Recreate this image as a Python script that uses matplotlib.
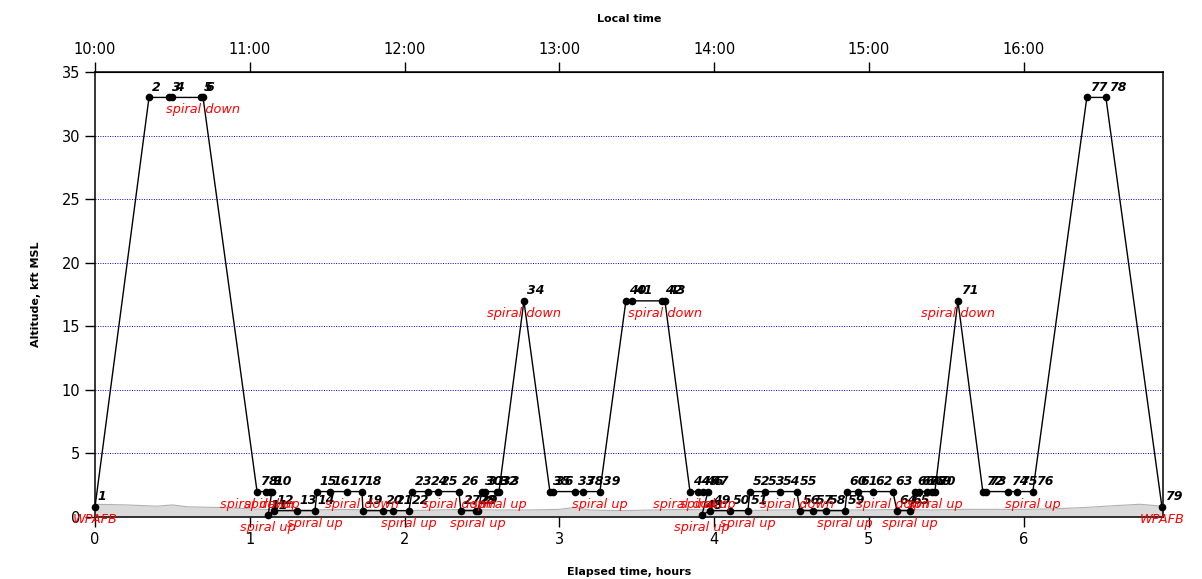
import matplotlib
matplotlib.use("Agg")
import matplotlib.pyplot as plt

# waypoints: elapsed time (h) and altitude (kft MSL), numbered 1..79
hours = [0.000, 0.349, 0.478, 0.497, 0.685, 0.698, 1.047, 1.105, 1.130, 1.143,
         1.118, 1.156, 1.305, 1.421, 1.434, 1.518, 1.628, 1.725, 1.731, 1.860,
         1.925, 2.028, 2.048, 2.151, 2.216, 2.351, 2.364, 2.461, 2.474, 2.500,
         2.519, 2.597, 2.610, 2.771, 2.939, 2.959, 3.101, 3.152, 3.262, 3.430,
         3.469, 3.663, 3.682, 3.844, 3.895, 3.928, 3.960, 3.921, 3.973, 4.102,
         4.218, 4.231, 4.328, 4.425, 4.535, 4.554, 4.638, 4.722, 4.845, 4.858,
         4.929, 5.026, 5.155, 5.181, 5.265, 5.297, 5.323, 5.375, 5.407, 5.426,
         5.575, 5.736, 5.756, 5.898, 5.956, 6.059, 6.408, 6.531, 6.893]
alt = [0.8, 33, 33, 33, 33, 33, 2.0, 2.0, 2.0, 2.0,
       0.15, 0.5, 0.5, 0.5, 2.0, 2.0, 2.0, 2.0, 0.5, 0.5,
       0.5, 0.5, 2.0, 2.0, 2.0, 2.0, 0.5, 0.5, 0.5, 2.0,
       2.0, 2.0, 2.0, 17, 2.0, 2.0, 2.0, 2.0, 2.0, 17,
       17, 17, 17, 2.0, 2.0, 2.0, 2.0, 0.15, 0.5, 0.5,
       0.5, 2.0, 2.0, 2.0, 2.0, 0.5, 0.5, 0.5, 0.5, 2.0,
       2.0, 2.0, 2.0, 0.5, 0.5, 2.0, 2.0, 2.0, 2.0, 2.0,
       17, 2.0, 2.0, 2.0, 2.0, 2.0, 33, 33, 0.8]

# red notes under some waypoints
note_pts = [1, 6, 7, 10, 11, 14, 18, 22, 26, 29, 33, 34, 39, 43, 44, 47, 48,
            51, 55, 59, 63, 65, 70, 71, 76, 79]
note_txt = ["WPAFB", "spiral down", "spiral down", "spiral up", "spiral up",
            "spiral up", "spiral down", "spiral up", "spiral down", "spiral up",
            "spiral up", "spiral down", "spiral up", "spiral down", "spiral down",
            "spiral up", "spiral up", "spiral up", "spiral down", "spiral up",
            "spiral down", "spiral up", "spiral up", "spiral down", "spiral up",
            "WPAFB"]

# terrain under the track
terrain_h = [0.0, 0.2, 0.4, 0.5, 0.6, 0.8, 1.0, 1.2, 1.4, 1.6, 1.8, 2.0, 2.2,
             2.4, 2.6, 2.8, 3.0, 3.1, 3.2, 3.4, 3.6, 3.8, 4.0, 4.2, 4.4, 4.6,
             4.8, 5.0, 5.2, 5.4, 5.6, 5.8, 6.0, 6.2, 6.4, 6.6, 6.75, 6.9]
terrain_alt = [1.0, 0.95, 0.85, 0.95, 0.8, 0.75, 0.65, 0.55, 0.55, 0.6, 0.55,
               0.5, 0.55, 0.6, 0.55, 0.55, 0.6, 0.75, 0.55, 0.5, 0.55, 0.6,
               0.55, 0.5, 0.55, 0.6, 0.55, 0.55, 0.6, 0.55, 0.6, 0.6, 0.6,
               0.65, 0.75, 0.9, 1.0, 0.85]

local_times = ["10:00", "11:00", "12:00", "13:00", "14:00", "15:00", "16:00"]
hour_ticks = [0, 1, 2, 3, 4, 5, 6]

fig = plt.figure(figsize=(12.02, 5.79), dpi=100)
ax = fig.add_axes([95 / 1202, 62 / 579, 1068 / 1202, 445 / 579])

ax.fill_between(terrain_h, 0, terrain_alt, color="#dadada", lw=0, zorder=1)
ax.plot(terrain_h, terrain_alt, color="#b0b0b0", lw=0.8, zorder=1)

for y in range(5, 35, 5):
    ax.axhline(y, color="blue", ls=(0, (1, 1.5)), lw=0.7, zorder=0)

ax.plot(hours, alt, "k-", lw=1, marker="o", ms=4.5, zorder=3, clip_on=False)

for i, (h, a) in enumerate(zip(hours, alt)):
    ax.annotate(str(i + 1), (h, a), xytext=(2, 2.5), textcoords="offset points",
                fontsize=9, fontweight="bold", style="italic",
                ha="left", va="bottom", zorder=4, annotation_clip=False)

for n, t in zip(note_pts, note_txt):
    ax.annotate(t, (hours[n - 1], alt[n - 1]), xytext=(0, -9),
                textcoords="offset points", ha="center", va="center",
                color="red", style="italic", fontsize=9.3, zorder=4,
                annotation_clip=False)

ax.set_xlim(0, 6.9)
ax.set_ylim(0, 35)
ax.set_xticks(hour_ticks)
ax.set_yticks(range(0, 36, 5))
ax.tick_params(direction="out", length=7, width=1, labelsize=10.5)
for s in ax.spines.values():
    s.set_linewidth(1.1)

top = ax.secondary_xaxis("top")
top.set_xticks(hour_ticks)
top.set_xticklabels(local_times)
top.tick_params(direction="out", length=7, width=1, labelsize=10.5)
top.set_xlabel("Local time", fontsize=8, fontweight="bold", labelpad=15)

ax.set_xlabel("Elapsed time, hours", fontsize=8, fontweight="bold", labelpad=15)
ax.set_ylabel("Altitude, kft MSL", fontsize=8, fontweight="bold", labelpad=15)

fig.savefig("out.png", dpi=100)
